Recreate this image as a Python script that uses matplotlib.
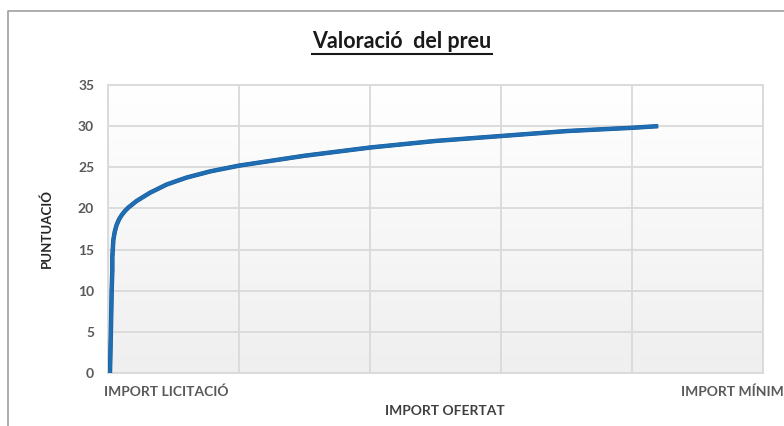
import numpy as np
import matplotlib.pyplot as plt
import matplotlib.patheffects as pe

# punts llegits de la corba (x en unitats de la graella, 0 = import licitació)
import_ofertat = [0.015, 0.022, 0.028, 0.033, 0.033, 0.041, 0.052, 0.066, 0.085, 0.105, 0.13, 0.155,
                  0.218, 0.32, 0.447, 0.6, 0.78, 1.0, 1.5, 2.0, 2.5, 3.0, 3.5, 4.0, 4.2]
puntuacio = [0, 5, 10, 12.5, 14.1, 16.2, 17.2, 18.0, 18.7, 19.2, 19.7, 20.1,
             20.9, 21.9, 22.9, 23.75, 24.5, 25.2, 26.4, 27.4, 28.2, 28.8, 29.4, 29.8, 30.0]
x_labels = ['IMPORT LICITACIÓ', 'IMPORT MÍNIM']
y_ticks = [0, 5, 10, 15, 20, 25, 30, 35]

plt.rcParams['font.family'] = ['Lato', 'DejaVu Sans']

W, H = 784, 426
fig = plt.figure(figsize=(W / 100, H / 100), dpi=100)
ax = fig.add_axes([108 / W, 1 - 373 / H, (763 - 108) / W, (373 - 85) / H])

# fons degradat de la zona de dibuix
grad = np.linspace(1, 0, 256).reshape(-1, 1)
ax.imshow(grad, extent=[0, 5, 0, 35], aspect='auto', cmap=plt.matplotlib.colors.LinearSegmentedColormap.from_list(
    'g', ['#efefef', '#ffffff']), zorder=0, origin='upper')

ax.plot(import_ofertat, puntuacio, color='#1f6db3', lw=2.6, solid_capstyle='butt',
        solid_joinstyle='round', zorder=3,
        path_effects=[pe.Stroke(linewidth=3.2, foreground='#185a96'), pe.Normal()])

ax.set_xlim(0, 5)
ax.set_ylim(0, 35)
ax.set_xticks(range(6))
ax.set_xticklabels([])
ax.set_yticks(y_ticks)
ax.set_yticklabels([str(v) for v in y_ticks], fontsize=10, fontweight='bold', color='#595959')
ax.tick_params(length=0, pad=10)
ax.grid(True, color='#d9d9d9', lw=1.3)
for s in ax.spines.values():
    s.set_color('#d9d9d9')
    s.set_linewidth(1.3)

# etiquetes dels extrems de l'eix X
ax.text(-0.03, -0.045, x_labels[0], transform=ax.get_xaxis_transform(), ha='left', va='top',
        fontsize=10, fontweight='bold', color='#595959')
ax.text(4.374, -0.045, x_labels[1], transform=ax.get_xaxis_transform(), ha='left', va='top',
        fontsize=10, fontweight='bold', color='#595959', clip_on=False)

fig.text(445 / W, 1 - 411 / H, 'IMPORT OFERTAT', ha='center', va='center', fontsize=10,
         fontweight='bold', color='#404040')
fig.text(47 / W, 1 - 229 / H, 'PUNTUACIÓ', ha='center', va='center', rotation=90, fontsize=9.5,
         fontweight='bold', color='#262626')

# títol subratllat
t = fig.text(402 / W, 1 - 42 / H, 'Valoració  del preu', ha='center', va='center', fontsize=15.5,
             fontweight='bold', color='#1a1a1a')
fig.canvas.draw()
bb = t.get_window_extent()
fig.add_artist(plt.Line2D([bb.x0 / W, bb.x1 / W], [(bb.y0 - 1) / H, (bb.y0 - 1) / H],
                          color='#1a1a1a', lw=1.5))

# vora del gràfic
fig.add_artist(plt.Line2D([8 / W, 8 / W, 1], [0, 1 - 11 / H, 1 - 11 / H], color='#a0a0a0', lw=1.2))

fig.savefig('out.png', dpi=100)
